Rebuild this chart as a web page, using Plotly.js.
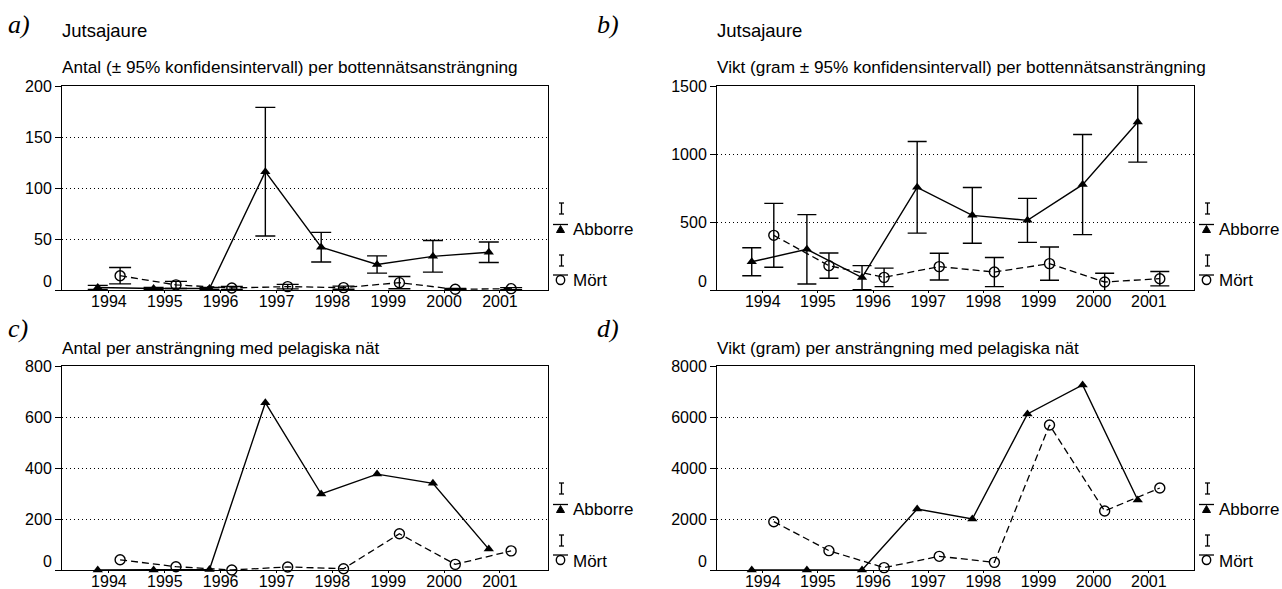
<!DOCTYPE html>
<html><head><meta charset="utf-8">
<script src="https://cdn.plot.ly/plotly-3.0.1.min.js"></script>
<style>html,body{margin:0;padding:0;background:#fff}#chart{width:1282px;height:589px}</style>
</head><body><div id="chart"></div>
<script>
// ---- data ----
const years = [1994, 1995, 1996, 1997, 1998, 1999, 2000, 2001];
const yearLabels = ['1994', '1995', '1996', '1997', '1998', '1999', '2000', '2001'];

// a) Antal per bottennätsansträngning (± 95% CI)
const antalBottenAbborre = [2.5, 1.5, 1.5, 116, 42, 25, 33, 37];
const antalBottenAbborreCI = [2, 1, 1, 63, 14.5, 8.5, 15.5, 10];
const antalBottenMort = [14, 5, 2, 3.3, 2.3, 7.2, 0.7, 1.3];
const antalBottenMortCI = [8, 3.5, 1.5, 2.2, 1.5, 6, 0.7, 1];

// b) Vikt (gram) per bottennätsansträngning (± 95% CI)
const viktBottenAbborre = [208, 299, 91, 755, 549, 512, 775, 1235];
const viktBottenAbborreCI = [103, 255, 88, 337, 205, 162, 368, 295];
const viktBottenMort = [402, 179, 93, 172, 132, 194, 59, 83];
const viktBottenMortCI = [235, 93, 68, 98, 107, 122, 64, 53];

// c) Antal per ansträngning med pelagiska nät
const antalPelagAbborre = [0, 0, 2, 656, 298, 376, 340, 82];
const antalPelagMort = [40, 13, 0, 12, 5, 142, 22, 75];

// d) Vikt (gram) per ansträngning med pelagiska nät
const viktPelagAbborre = [0, 0, 0, 2392, 2000, 6118, 7255, 2745];
const viktPelagMort = [1895, 758, 92, 536, 300, 5686, 2314, 3216];

const ticksA = [0, 50, 100, 150, 200];
const ticksB = [0, 500, 1000, 1500];
const ticksC = [0, 200, 400, 600, 800];
const ticksD = [0, 2000, 4000, 6000, 8000];

// ---- geometry helpers (pixel -> paper) ----
const W = 1282, H = 589;
const P = x => x / W;
const Q = y => 1 - y / H;
const OFF = 0.2;
const xAbb = years.map(y => y - OFF);
const xMort = years.map(y => y + OFF);

const FONT = 'Liberation Sans, Arial, Helvetica, sans-serif';
const panels = [
  {L: 62,  R: 548,  T: 86,  B: 290, xr: [1993.16, 2001.86], ticks: ticksA},
  {L: 717, R: 1194, T: 86,  B: 290, xr: [1993.17, 2001.82], ticks: ticksB},
  {L: 62,  R: 548,  T: 366, B: 570, xr: [1993.16, 2001.86], ticks: ticksC},
  {L: 717, R: 1194, T: 366, B: 570, xr: [1993.17, 2001.82], ticks: ticksD}
];

function abbTrace(i, ys, ci) {
  const t = {
    x: xAbb, y: ys, type: 'scatter', mode: 'lines+markers', cliponaxis: false,
    xaxis: 'x' + (i ? i + 1 : ''), yaxis: 'y' + (i ? i + 1 : ''),
    line: {color: '#000', width: 1.4},
    marker: {symbol: 'triangle-up', size: 9, color: '#000'}
  };
  if (ci) t.error_y = {type: 'data', array: ci, symmetric: true, color: '#000', thickness: 1.4, width: i === 1 ? 9.5 : 10};
  return t;
}
function mortTrace(i, ys, ci) {
  const t = {
    x: xMort, y: ys, type: 'scatter', mode: 'lines+markers', cliponaxis: false,
    xaxis: 'x' + (i ? i + 1 : ''), yaxis: 'y' + (i ? i + 1 : ''),
    line: {color: '#000', width: 1.3, dash: '7px,4px'},
    marker: {symbol: 'circle-open', size: 10, color: '#000', line: {width: 1.4, color: '#000'}}
  };
  if (ci) t.error_y = {type: 'data', array: ci, symmetric: true, color: '#000', thickness: 1.4, width: i === 1 ? 9.5 : 11};
  return t;
}

const data = [
  mortTrace(0, antalBottenMort, antalBottenMortCI),
  abbTrace(0, antalBottenAbborre, antalBottenAbborreCI),
  mortTrace(1, viktBottenMort, viktBottenMortCI),
  abbTrace(1, viktBottenAbborre, viktBottenAbborreCI),
  mortTrace(2, antalPelagMort, null),
  abbTrace(2, antalPelagAbborre, null),
  mortTrace(3, viktPelagMort, null),
  abbTrace(3, viktPelagAbborre, null)
];

const layout = {
  width: W, height: H,
  margin: {l: 0, r: 0, t: 0, b: 0},
  paper_bgcolor: '#fff', plot_bgcolor: '#fff',
  showlegend: false,
  font: {family: FONT, color: '#000', size: 16},
  annotations: [], shapes: []
};

panels.forEach((p, i) => {
  const sfx = i ? String(i + 1) : '';
  const ymax = p.ticks[p.ticks.length - 1];
  layout['xaxis' + sfx] = {
    domain: [P(p.L), P(p.R)], range: p.xr, anchor: 'y' + sfx,
    tickvals: years, ticktext: yearLabels, ticks: 'outside', ticklen: 2, tickcolor: '#000',
    ticklabelstandoff: -5,
    showline: true, mirror: true, linecolor: '#000', linewidth: 1,
    showgrid: false, zeroline: false, tickfont: {size: 16, family: FONT}, fixedrange: true
  };
  layout['yaxis' + sfx] = {
    domain: [Q(p.B), Q(p.T)], range: [0, ymax], anchor: 'x' + sfx,
    tickvals: p.ticks, ticktext: p.ticks.map(v => v === 0 ? '' : String(v)),
    ticks: 'outside', ticklen: 6, tickcolor: '#000',
    showline: true, mirror: true, linecolor: '#000', linewidth: 1,
    showgrid: true, gridcolor: '#000', gridwidth: 1, griddash: '1px,3px',
    zeroline: false, tickfont: {size: 16, family: FONT}, fixedrange: true
  };
  // raised "0" tick label
  layout.annotations.push({
    xref: 'paper', yref: 'y' + sfx, x: P(p.L - 8), y: 0, yshift: 9,
    xanchor: 'right', yanchor: 'middle', showarrow: false, text: '0',
    font: {size: 16, family: FONT}
  });
  // legend glyphs
  const R = p.R, B = p.B;
  const line = (x0, y0, x1, y1) => ({type: 'line', xref: 'paper', yref: 'paper',
    x0: P(x0), y0: Q(y0), x1: P(x1), y1: Q(y1), line: {color: '#000', width: 1.3}});
  [[B - 87, B - 76], [B - 35, B - 24]].forEach(([a, b]) => {
    layout.shapes.push(line(R + 13.5, a, R + 13.5, b));
    layout.shapes.push(line(R + 11, a, R + 16, a));
    layout.shapes.push(line(R + 11, b, R + 16, b));
  });
  layout.shapes.push(line(R + 5, B - 65.5, R + 20, B - 65.5));
  layout.shapes.push({type: 'path', xref: 'paper', yref: 'paper', fillcolor: '#000',
    line: {color: '#000', width: 1},
    path: `M ${P(R + 8.5)} ${Q(B - 57.5)} L ${P(R + 16.5)} ${Q(B - 57.5)} L ${P(R + 12.5)} ${Q(B - 64.5)} Z`});
  layout.shapes.push(line(R + 5, B - 15, R + 20, B - 15));
  layout.shapes.push({type: 'circle', xref: 'paper', yref: 'paper',
    x0: P(R + 8.3), x1: P(R + 16.7), y0: Q(B - 14.5), y1: Q(B - 5.5),
    line: {color: '#000', width: 1.4}});
  layout.annotations.push({xref: 'paper', yref: 'paper', x: P(R + 23), y: Q(B - 61),
    xanchor: 'left', yanchor: 'middle', showarrow: false, text: 'Abborre', font: {size: 17, family: FONT}});
  layout.annotations.push({xref: 'paper', yref: 'paper', x: P(R + 23), y: Q(B - 9),
    xanchor: 'left', yanchor: 'middle', showarrow: false, text: 'Mört', font: {size: 17, family: FONT}});
});

const texts = [
  {x: 60, y: 30, t: 'Jutsajaure', s: 18.5},
  {x: 715, y: 30, t: 'Jutsajaure', s: 18.5},
  {x: 60, y: 67, t: 'Antal (± 95% konfidensintervall) per bottennätsansträngning', s: 17.2},
  {x: 715, y: 67, t: 'Vikt (gram ± 95% konfidensintervall) per bottennätsansträngning', s: 17.2},
  {x: 60, y: 347.5, t: 'Antal per ansträngning med pelagiska nät', s: 17.2},
  {x: 715, y: 347.5, t: 'Vikt (gram) per ansträngning med pelagiska nät', s: 17.2}
];
texts.forEach(o => layout.annotations.push({xref: 'paper', yref: 'paper', x: P(o.x), y: Q(o.y),
  xanchor: 'left', yanchor: 'middle', showarrow: false, text: o.t, font: {size: o.s, family: FONT}}));

const labels = [
  {x: 6, y: 25, t: 'a)'}, {x: 595, y: 25, t: 'b)'},
  {x: 6, y: 328, t: 'c)'}, {x: 595, y: 328, t: 'd)'}
];
labels.forEach(o => layout.annotations.push({xref: 'paper', yref: 'paper', x: P(o.x), y: Q(o.y),
  xanchor: 'left', yanchor: 'middle', showarrow: false, text: '<i>' + o.t + '</i>',
  font: {size: 26, family: 'Liberation Serif, Times New Roman, serif'}}));

Plotly.newPlot('chart', data, layout, {staticPlot: true, displayModeBar: false});
</script>
</body></html>
